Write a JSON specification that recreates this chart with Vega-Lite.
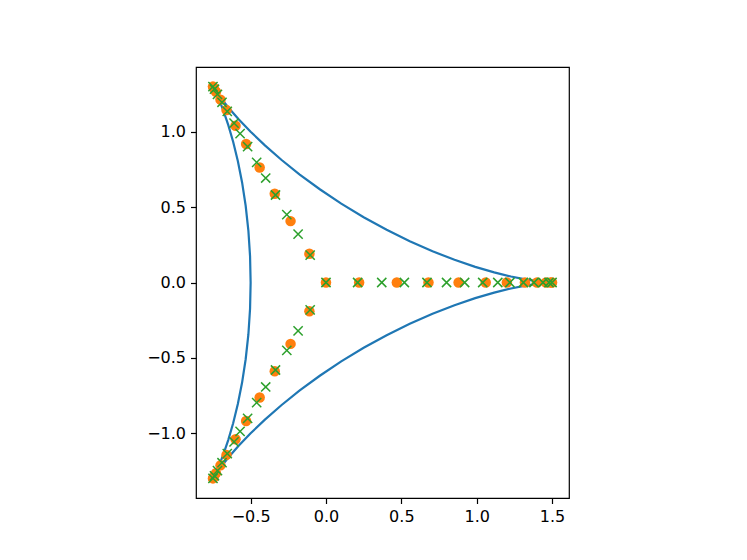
{
  "$schema": "https://vega.github.io/schema/vega-lite/v6.json",
  "autosize": {"type": "none"},
  "width": 373,
  "height": 431,
  "padding": {"left": 196, "top": 67, "right": 178, "bottom": 62},
  "background": "white",
  "config": {
    "view": {"stroke": "black", "strokeWidth": 1.2},
    "axis": {
      "domain": false,
      "grid": false,
      "title": null,
      "labelFont": "DejaVu Sans",
      "labelFontSize": 16,
      "labelColor": "black",
      "tickColor": "black",
      "tickSize": 5.5,
      "tickWidth": 1.2,
      "labelPadding": 5,
      "format": ".1f"
    }
  },
  "datasets": {
    "curve": [
      {"t": 0, "x": 1.5, "y": 0},
      {"t": 5, "x": 1.48859, "y": 0.00034},
      {"t": 10, "x": 1.45466, "y": 0.00264},
      {"t": 15, "x": 1.39894, "y": 0.00882},
      {"t": 20, "x": 1.32271, "y": 0.02063},
      {"t": 25, "x": 1.2277, "y": 0.0396},
      {"t": 30, "x": 1.11603, "y": 0.06699},
      {"t": 35, "x": 0.99016, "y": 0.10373},
      {"t": 40, "x": 0.85286, "y": 0.15039},
      {"t": 45, "x": 0.70711, "y": 0.20711},
      {"t": 50, "x": 0.55597, "y": 0.27364},
      {"t": 55, "x": 0.40257, "y": 0.3493},
      {"t": 60, "x": 0.25, "y": 0.43301},
      {"t": 65, "x": 0.10123, "y": 0.52329},
      {"t": 70, "x": -0.041, "y": 0.6183},
      {"t": 75, "x": -0.17419, "y": 0.71593},
      {"t": 80, "x": -0.2962, "y": 0.8138},
      {"t": 85, "x": -0.40524, "y": 0.90937},
      {"t": 90, "x": -0.5, "y": 1.0},
      {"t": 95, "x": -0.57956, "y": 1.08301},
      {"t": 100, "x": -0.6435, "y": 1.15582},
      {"t": 105, "x": -0.69183, "y": 1.21593},
      {"t": 110, "x": -0.72504, "y": 1.26108},
      {"t": 115, "x": -0.74401, "y": 1.28933},
      {"t": 120, "x": -0.75, "y": 1.29904},
      {"t": 125, "x": -0.74459, "y": 1.289},
      {"t": 130, "x": -0.72961, "y": 1.25844},
      {"t": 135, "x": -0.70711, "y": 1.20711},
      {"t": 140, "x": -0.67922, "y": 1.13519},
      {"t": 145, "x": -0.64814, "y": 1.04343},
      {"t": 150, "x": -0.61603, "y": 0.93301},
      {"t": 155, "x": -0.58492, "y": 0.80564},
      {"t": 160, "x": -0.55667, "y": 0.66341},
      {"t": 165, "x": -0.53292, "y": 0.50882},
      {"t": 170, "x": -0.51496, "y": 0.34466},
      {"t": 175, "x": -0.50379, "y": 0.17398},
      {"t": 180, "x": -0.5, "y": 0},
      {"t": 185, "x": -0.50379, "y": -0.17398},
      {"t": 190, "x": -0.51496, "y": -0.34466},
      {"t": 195, "x": -0.53292, "y": -0.50882},
      {"t": 200, "x": -0.55667, "y": -0.66341},
      {"t": 205, "x": -0.58492, "y": -0.80564},
      {"t": 210, "x": -0.61603, "y": -0.93301},
      {"t": 215, "x": -0.64814, "y": -1.04343},
      {"t": 220, "x": -0.67922, "y": -1.13519},
      {"t": 225, "x": -0.70711, "y": -1.20711},
      {"t": 230, "x": -0.72961, "y": -1.25844},
      {"t": 235, "x": -0.74459, "y": -1.289},
      {"t": 240, "x": -0.75, "y": -1.29904},
      {"t": 245, "x": -0.74401, "y": -1.28933},
      {"t": 250, "x": -0.72504, "y": -1.26108},
      {"t": 255, "x": -0.69183, "y": -1.21593},
      {"t": 260, "x": -0.6435, "y": -1.15582},
      {"t": 265, "x": -0.57956, "y": -1.08301},
      {"t": 270, "x": -0.5, "y": -1.0},
      {"t": 275, "x": -0.40524, "y": -0.90937},
      {"t": 280, "x": -0.2962, "y": -0.8138},
      {"t": 285, "x": -0.17419, "y": -0.71593},
      {"t": 290, "x": -0.041, "y": -0.6183},
      {"t": 295, "x": 0.10123, "y": -0.52329},
      {"t": 300, "x": 0.25, "y": -0.43301},
      {"t": 305, "x": 0.40257, "y": -0.3493},
      {"t": 310, "x": 0.55597, "y": -0.27364},
      {"t": 315, "x": 0.70711, "y": -0.20711},
      {"t": 320, "x": 0.85286, "y": -0.15039},
      {"t": 325, "x": 0.99016, "y": -0.10373},
      {"t": 330, "x": 1.11603, "y": -0.06699},
      {"t": 335, "x": 1.2277, "y": -0.0396},
      {"t": 340, "x": 1.32271, "y": -0.02063},
      {"t": 345, "x": 1.39894, "y": -0.00882},
      {"t": 350, "x": 1.45466, "y": -0.00264},
      {"t": 355, "x": 1.48859, "y": -0.00034},
      {"t": 360, "x": 1.5, "y": 0}
    ],
    "dots": [
      {"x": 0, "y": 0},
      {"x": 0.22, "y": 0}, {"x": 0.47, "y": 0}, {"x": 0.68, "y": 0}, {"x": 0.88, "y": 0},
      {"x": 1.06, "y": 0}, {"x": 1.2, "y": 0}, {"x": 1.32, "y": 0}, {"x": 1.4, "y": 0},
      {"x": 1.46, "y": 0}, {"x": 1.49, "y": 0}, {"x": 1.5, "y": 0},
      {"x": -0.11, "y": 0.1905}, {"x": -0.235, "y": 0.407}, {"x": -0.34, "y": 0.5889}, {"x": -0.44, "y": 0.7621},
      {"x": -0.53, "y": 0.918}, {"x": -0.6, "y": 1.0392}, {"x": -0.66, "y": 1.1431}, {"x": -0.7, "y": 1.2124},
      {"x": -0.73, "y": 1.2644}, {"x": -0.745, "y": 1.2903}, {"x": -0.75, "y": 1.299},
      {"x": -0.11, "y": -0.1905}, {"x": -0.235, "y": -0.407}, {"x": -0.34, "y": -0.5889}, {"x": -0.44, "y": -0.7621},
      {"x": -0.53, "y": -0.918}, {"x": -0.6, "y": -1.0392}, {"x": -0.66, "y": -1.1431}, {"x": -0.7, "y": -1.2124},
      {"x": -0.73, "y": -1.2644}, {"x": -0.745, "y": -1.2903}, {"x": -0.75, "y": -1.299}
    ],
    "crosses": [
      {"x": 0, "y": 0},
      {"x": 0.21, "y": 0}, {"x": 0.37, "y": 0}, {"x": 0.52, "y": 0}, {"x": 0.67, "y": 0}, {"x": 0.8, "y": 0},
      {"x": 0.92, "y": 0}, {"x": 1.04, "y": 0}, {"x": 1.14, "y": 0}, {"x": 1.22, "y": 0}, {"x": 1.31, "y": 0},
      {"x": 1.38, "y": 0}, {"x": 1.44, "y": 0}, {"x": 1.48, "y": 0}, {"x": 1.5, "y": 0},
      {"x": -0.105, "y": 0.1819}, {"x": -0.185, "y": 0.3204}, {"x": -0.26, "y": 0.4503}, {"x": -0.335, "y": 0.5802},
      {"x": -0.4, "y": 0.6928}, {"x": -0.46, "y": 0.7967}, {"x": -0.52, "y": 0.9006}, {"x": -0.57, "y": 0.9873},
      {"x": -0.61, "y": 1.0565}, {"x": -0.655, "y": 1.1345}, {"x": -0.69, "y": 1.1951}, {"x": -0.72, "y": 1.247},
      {"x": -0.74, "y": 1.2817}, {"x": -0.75, "y": 1.299},
      {"x": -0.105, "y": -0.1819}, {"x": -0.185, "y": -0.3204}, {"x": -0.26, "y": -0.4503}, {"x": -0.335, "y": -0.5802},
      {"x": -0.4, "y": -0.6928}, {"x": -0.46, "y": -0.7967}, {"x": -0.52, "y": -0.9006}, {"x": -0.57, "y": -0.9873},
      {"x": -0.61, "y": -1.0565}, {"x": -0.655, "y": -1.1345}, {"x": -0.69, "y": -1.1951}, {"x": -0.72, "y": -1.247},
      {"x": -0.74, "y": -1.2817}, {"x": -0.75, "y": -1.299}
    ]
  },
  "encoding": {
    "x": {
      "field": "x", "type": "quantitative",
      "scale": {"domain": [-0.8625, 1.6125], "nice": false, "zero": false},
      "axis": {"values": [-0.5, 0, 0.5, 1, 1.5]}
    },
    "y": {
      "field": "y", "type": "quantitative",
      "scale": {"domain": [-1.429, 1.429], "nice": false, "zero": false},
      "axis": {"values": [-1, -0.5, 0, 0.5, 1]}
    }
  },
  "layer": [
    {
      "data": {"name": "curve"},
      "mark": {"type": "line", "color": "#1f77b4", "strokeWidth": 2.2, "clip": true},
      "encoding": {"order": {"field": "t", "type": "quantitative"}}
    },
    {
      "data": {"name": "dots"},
      "mark": {"type": "point", "shape": "circle", "filled": true, "color": "#ff7f0e", "opacity": 1, "size": 110}
    },
    {
      "data": {"name": "crosses"},
      "mark": {"type": "point", "shape": "M-1,-1L1,1M-1,1L1,-1", "filled": false, "color": "#2ca02c", "opacity": 1, "strokeWidth": 1.5, "size": 85}
    }
  ]
}
